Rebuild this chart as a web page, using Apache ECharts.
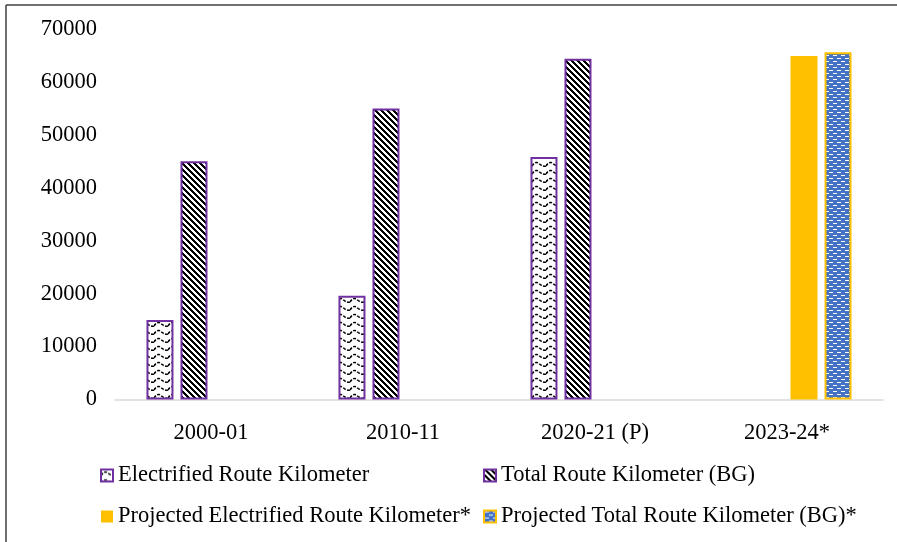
<!DOCTYPE html>
<html>
<head>
<meta charset="utf-8">
<script src="https://cdn.jsdelivr.net/npm/echarts@6/dist/echarts.min.js"></script>
<style>
html,body{margin:0;padding:0;background:#fff;}
#chart{width:897px;height:542px;}
</style>
</head>
<body>
<div id="chart"></div>
<script>
const categories = ['2000-01', '2010-11', '2020-21 (P)', '2023-24*'];
const seriesNames = ['Electrified Route Kilometer', 'Total Route Kilometer (BG)', 'Projected Electrified Route Kilometer*', 'Projected Total Route Kilometer (BG)*'];
const electrified = [15000, 19600, 45800, null];
const totalBG = [45000, 55000, 64400, null];
const projElectrified = [null, null, null, 64900];
const projTotalBG = [null, null, null, 65600];

function makeCanvas(w, h, draw) {
  const c = document.createElement('canvas');
  c.width = w; c.height = h;
  const ctx = c.getContext('2d');
  draw(ctx, w, h);
  return c;
}
// diagonal black/white stripes
const stripes = makeCanvas(6, 6, (ctx, w, h) => {
  ctx.fillStyle = '#fff'; ctx.fillRect(0, 0, w, h);
  ctx.fillStyle = '#000';
  for (let y = 0; y < h; y++) for (let x = 0; x < w; x++) {
    if (((x - y) % 6 + 6) % 6 < 3) ctx.fillRect(x, y, 1, 1);
  }
});
// wavy dashes
const waves = makeCanvas(14, 8, (ctx, w, h) => {
  ctx.fillStyle = '#fff'; ctx.fillRect(0, 0, w, h);
  ctx.strokeStyle = '#000'; ctx.lineWidth = 1.6;
  ctx.setLineDash([3, 1.5]);
  ctx.beginPath();
  ctx.moveTo(0, 6);
  ctx.quadraticCurveTo(3.5, 0.5, 7, 3.5);
  ctx.quadraticCurveTo(10.5, 7, 14, 6);
  ctx.stroke();
});
// blue with white dashes
const blueDash = makeCanvas(8, 6, (ctx, w, h) => {
  ctx.fillStyle = '#4472C4'; ctx.fillRect(0, 0, w, h);
  ctx.fillStyle = '#fff';
  ctx.fillRect(1, 1, 4, 1);
  ctx.fillRect(5, 4, 3, 1);
  ctx.fillRect(0, 4, 1, 1);
});

const font = 'Liberation Serif';
const fs = 22.5;
const chart = echarts.init(document.getElementById('chart'), null, {renderer: 'canvas'});
chart.setOption({
  animation: false,
  backgroundColor: '#fff',
  graphic: [
    {type: 'line', shape: {x1: 6, y1: 5, x2: 6, y2: 542}, style: {stroke: '#404040', lineWidth: 1.5}},
    {type: 'line', shape: {x1: 6, y1: 5, x2: 897, y2: 5}, style: {stroke: '#404040', lineWidth: 1.5}}
  ],
  grid: {left: 115, right: 14, top: 29, bottom: 142.5, containLabel: false},
  legend: [
    {data: [seriesNames[0], seriesNames[2]], orient: 'vertical', left: 95, top: 459, itemGap: 18,
     itemWidth: 12, itemHeight: 12, icon: 'rect', selectedMode: false,
     textStyle: {fontFamily: font, fontSize: fs, color: '#000', lineHeight: 22}},
    {data: [seriesNames[1], seriesNames[3]], orient: 'vertical', left: 478, top: 459, itemGap: 18,
     itemWidth: 12, itemHeight: 12, icon: 'rect', selectedMode: false,
     textStyle: {fontFamily: font, fontSize: fs, color: '#000', lineHeight: 22}}
  ],
  xAxis: {
    type: 'category', data: categories,
    axisLine: {lineStyle: {color: '#d9d9d9', width: 1.5}},
    axisTick: {show: false},
    axisLabel: {fontFamily: font, fontSize: fs, color: '#000', margin: 22}
  },
  yAxis: {
    type: 'value', min: 0, max: 70000, interval: 10000,
    axisLine: {show: false}, axisTick: {show: false}, splitLine: {show: false},
    axisLabel: {fontFamily: font, fontSize: fs, color: '#000', margin: 18, formatter: v => String(v)}
  },
  series: [
    {name: seriesNames[0], type: 'bar', data: electrified, barWidth: 27, barGap: '26%',
     itemStyle: {color: {image: waves, repeat: 'repeat'}, borderColor: '#7030A0', borderWidth: 2}},
    {name: seriesNames[1], type: 'bar', data: totalBG, barWidth: 27, barGap: '26%',
     itemStyle: {color: {image: stripes, repeat: 'repeat'}, borderColor: '#7030A0', borderWidth: 2}},
    {name: seriesNames[2], type: 'bar', data: projElectrified, barWidth: 27, barGap: '26%',
     itemStyle: {color: '#FFC000'}},
    {name: seriesNames[3], type: 'bar', data: projTotalBG, barWidth: 27, barGap: '26%',
     itemStyle: {color: {image: blueDash, repeat: 'repeat'}, borderColor: '#FFC000', borderWidth: 2}}
  ]
});
</script>
</body>
</html>
